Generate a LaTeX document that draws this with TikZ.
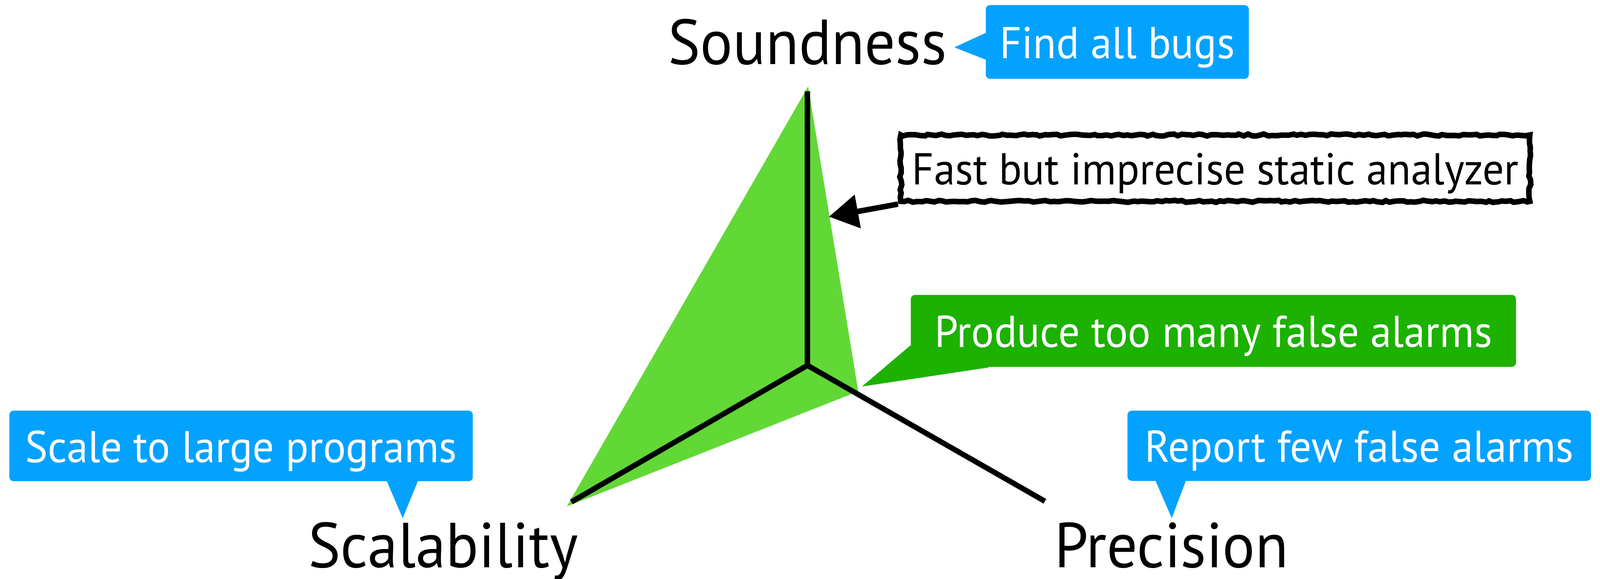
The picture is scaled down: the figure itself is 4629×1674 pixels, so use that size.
\documentclass[tikz,border=0pt]{standalone}
\usepackage{fontspec}
\setmainfont{PT Sans}[FakeStretch=0.955]
\usetikzlibrary{calc,arrows.meta,decorations.pathmorphing}
\definecolor{kblue}{RGB}{3,162,255}
\definecolor{kgreen}{RGB}{29,177,0}
\definecolor{lgreen}{RGB}{97,216,54}
\tikzset{
  axisline/.style={line width=1.55pt, black},
  bigtext/.style={inner sep=0pt, anchor=base, font=\fontsize{18.4}{20}\selectfont},
  callbox/.style={inner sep=0pt, rounded corners=1.2pt, text=white,
    text height=12pt, text depth=2.6pt, font=\fontsize{12.9}{14}\selectfont},
  bluebox/.style={callbox, fill=kblue},
  greenbox/.style={callbox, fill=kgreen},
  sketchbox/.style={inner sep=0pt, draw=black, line width=1.6pt,
    decorate, decoration={random steps, segment length=1.2pt, amplitude=0.3pt},
    text height=12pt, text depth=2.6pt, font=\fontsize{12.9}{14}\selectfont},
  sketcharrow/.style={line width=1.6pt, -{Triangle[length=8.5pt,width=9.5pt]}}
}
\begin{document}
\begin{tikzpicture}[x=0.1pt,y=-0.1pt]
\useasboundingbox (0,0) rectangle (4629,1674);

% axes coordinates
\coordinate (C) at (2336,1057);
\coordinate (T) at (2336,264);
\coordinate (L) at (1653,1452);
\coordinate (R) at (3023,1450);

% green triangle
\coordinate (gt) at (2338,250);
\coordinate (gr) at (2483,1132);
\coordinate (gl) at (1640,1465);
\fill[lgreen] (gt) -- (gr) -- (gl) -- cycle;

% axes
\draw[axisline] (T) -- (C) -- (L);
\draw[axisline] (C) -- (R);

% axis labels
\node[bigtext] (sound) at (2336,186) {Soundness};
\node[bigtext] (scal) at (1282,1642) {Scalability};
\node[bigtext] (prec) at (3389,1642) {Precision};

% callouts
\node[bluebox, minimum width=76.1pt, minimum height=21.3pt] (find) at (3232.5,121.5) {Find all bugs};
\coordinate (findtip) at (2761,137);
\fill[kblue] ($(find.north west)+(0,83)$) -- (findtip) -- ($(find.north west)+(0,159)$)
  -- ($(find.north west)+(20,159)$) -- ($(find.north west)+(20,83)$) -- cycle;

\node[greenbox, minimum width=175.1pt, minimum height=20.8pt] (alarms) at (3510.5,957) {Produce too many false alarms};
\coordinate (alarmtip) at (2494,1118);
\fill[kgreen] ($(alarms.south west)+(0,-63)$) -- (alarmtip) -- ($(alarms.south west)+(227,0)$)
  -- ($(alarms.south west)+(227,-10)$) -- ($(alarms.south west)+(10,-10)$) -- ($(alarms.south west)+(10,-63)$) -- cycle;

\node[bluebox, minimum width=134.1pt, minimum height=20.4pt] (scale) at (697.5,1290) {Scale to large programs};
\coordinate (scaletip) at (1165,1499);
\fill[kblue] ($(scale.south west)+(1095,0)$) -- (scaletip) -- ($(scale.south west)+(1183,0)$)
  -- ($(scale.south west)+(1183,-15)$) -- ($(scale.south west)+(1095,-15)$) -- cycle;

\node[bluebox, minimum width=134.1pt, minimum height=20.3pt] (report) at (3932.5,1289.5) {Report few false alarms};
\coordinate (reporttip) at (3390,1499);
\fill[kblue] ($(report.south west)+(84,0)$) -- (reporttip) -- ($(report.south west)+(170,0)$)
  -- ($(report.south west)+(170,-15)$) -- ($(report.south west)+(84,-15)$) -- cycle;

% sketchy annotation
\node[sketchbox, minimum width=182pt, minimum height=19.2pt] (fast) at (3516,486.5) {Fast but imprecise static analyzer};
\coordinate (fasttip) at (2398,627);
\draw[sketcharrow] (fast.south west) -- (fasttip);
\end{tikzpicture}
\end{document}
